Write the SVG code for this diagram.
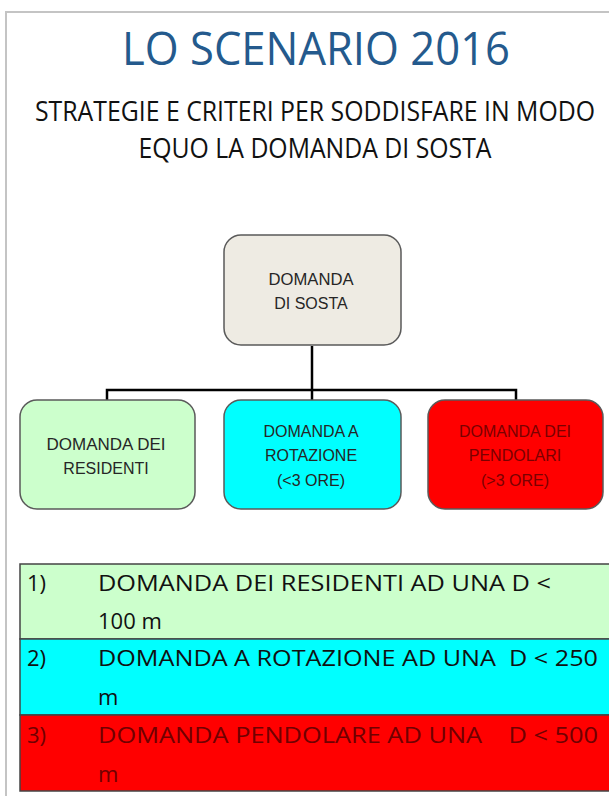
<svg xmlns="http://www.w3.org/2000/svg" width="609" height="796" viewBox="0 0 609 796">
<style>
.node{stroke:#5a5a5a;stroke-width:1.5}
.nt{font-family:"Liberation Sans",Arial,sans-serif;font-size:16px;fill:#262626;text-anchor:middle}
.nt.red{fill:#7a0000}
.conn{stroke:#000;stroke-width:2.5;fill:none}
.hd{font-family:"Open Sans","Liberation Sans",sans-serif}
.tt{font-family:"Open Sans","Liberation Sans",sans-serif;font-size:22px;fill:#111}
.tt.red{fill:#700000}
.row{stroke:#444;stroke-width:1.5}
</style>
<rect x="0" y="0" width="609" height="796" fill="#fff"/>
<path d="M6,796 V12 H609" fill="none" stroke="#c4c4c4" stroke-width="2"/>
<text class="hd" x="316" y="65" font-size="46" fill="#245a8d" text-anchor="middle" textLength="388" lengthAdjust="spacingAndGlyphs">LO SCENARIO 2016</text>
<text class="hd" x="315" y="121" font-size="27" fill="#111" text-anchor="middle" textLength="560" lengthAdjust="spacingAndGlyphs">STRATEGIE E CRITERI PER SODDISFARE IN MODO</text>
<text class="hd" x="315" y="158" font-size="27" fill="#111" text-anchor="middle" textLength="353" lengthAdjust="spacingAndGlyphs">EQUO LA DOMANDA DI SOSTA</text>
<g id="connectors">
<path class="conn" d="M312,346 V390"/>
<path class="conn" d="M107,400 V390 H516 V400"/>
<path class="conn" d="M312,390 V400"/>
</g>
<g id="n-top">
<rect class="node" x="224" y="235" width="177" height="110" rx="17" fill="#eeebe3"/>
<text class="nt" x="311" y="285" textLength="85" lengthAdjust="spacingAndGlyphs">DOMANDA</text>
<text class="nt" x="311" y="309">DI SOSTA</text>
</g>
<g id="n-res">
<rect class="node" x="20" y="400" width="175" height="109" rx="17" fill="#ccffcc"/>
<text class="nt" x="106" y="450" textLength="119" lengthAdjust="spacingAndGlyphs">DOMANDA DEI</text>
<text class="nt" x="106" y="474">RESIDENTI</text>
</g>
<g id="n-rot">
<rect class="node" x="224" y="400" width="177" height="109" rx="17" fill="#00ffff"/>
<text class="nt" x="311" y="437">DOMANDA A</text>
<text class="nt" x="311" y="461">ROTAZIONE</text>
<text class="nt" x="311" y="486">(&lt;3 ORE)</text>
</g>
<g id="n-pen">
<rect class="node" x="428" y="400" width="175" height="109" rx="17" fill="#ff0000"/>
<text class="nt red" x="515" y="437">DOMANDA DEI</text>
<text class="nt red" x="515" y="461">PENDOLARI</text>
<text class="nt red" x="515" y="486">(&gt;3 ORE)</text>
</g>
<g id="table">
<rect class="row" x="20" y="564" width="600" height="75" fill="#ccffcc"/>
<rect class="row" x="20" y="639" width="600" height="76" fill="#00ffff"/>
<rect class="row" x="20" y="715" width="600" height="76" fill="#ff0000"/>
<text class="tt" x="27" y="591">1)</text>
<text class="tt" x="98" y="591" textLength="453" lengthAdjust="spacingAndGlyphs">DOMANDA DEI RESIDENTI AD UNA D &lt;</text>
<text class="tt" x="98" y="629">100 m</text>
<text class="tt" x="27" y="666">2)</text>
<text class="tt" x="98" y="666" textLength="500" lengthAdjust="spacingAndGlyphs" xml:space="preserve">DOMANDA A ROTAZIONE AD UNA  D &lt; 250</text>
<text class="tt" x="98" y="705">m</text>
<text class="tt red" x="27" y="743">3)</text>
<text class="tt red" x="98" y="743" textLength="500" lengthAdjust="spacingAndGlyphs" xml:space="preserve">DOMANDA PENDOLARE AD UNA    D &lt; 500</text>
<text class="tt red" x="98" y="782">m</text>
</g>
</svg>
